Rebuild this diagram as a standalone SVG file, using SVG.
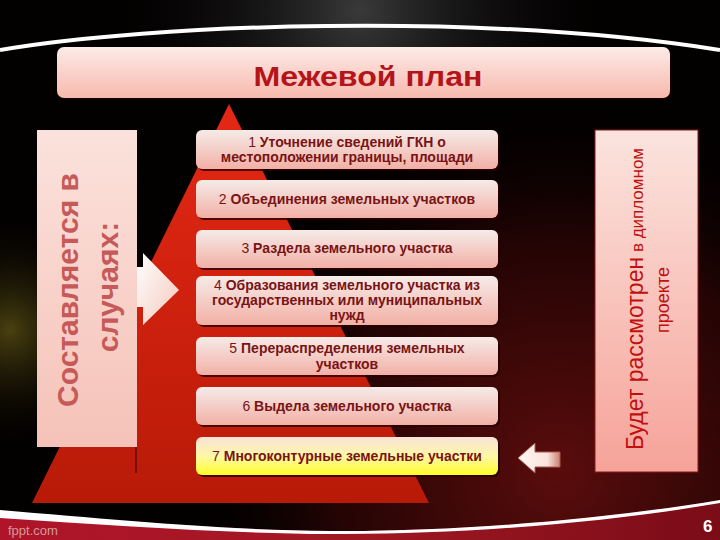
<svg xmlns="http://www.w3.org/2000/svg" width="720" height="540" viewBox="0 0 720 540">
<defs>
  <radialGradient id="glowR" cx="560" cy="470" r="380" gradientUnits="userSpaceOnUse">
    <stop offset="0" stop-color="#5a0c0c"/>
    <stop offset="0.6" stop-color="#240404"/>
    <stop offset="1" stop-color="#000" stop-opacity="0"/>
  </radialGradient>
  <radialGradient id="glowL" cx="10" cy="330" r="120" gradientUnits="userSpaceOnUse">
    <stop offset="0" stop-color="#4a4010"/>
    <stop offset="1" stop-color="#000" stop-opacity="0"/>
  </radialGradient>
  <radialGradient id="glowT" cx="360" cy="10" r="260" gradientUnits="userSpaceOnUse">
    <stop offset="0" stop-color="#3a3a3a"/>
    <stop offset="1" stop-color="#000" stop-opacity="0"/>
  </radialGradient>
  <linearGradient id="bottomRed" x1="0" y1="0" x2="1" y2="0">
    <stop offset="0" stop-color="#b0142a"/>
    <stop offset="0.5" stop-color="#a01822"/>
    <stop offset="1" stop-color="#7a0c18"/>
  </linearGradient>
  <linearGradient id="tri" x1="0" y1="0" x2="0" y2="1">
    <stop offset="0" stop-color="#e42814"/>
    <stop offset="1" stop-color="#b81a08"/>
  </linearGradient>
  <linearGradient id="titleFill" x1="0" y1="0" x2="0" y2="1">
    <stop offset="0" stop-color="#fdebe7"/>
    <stop offset="1" stop-color="#f7b9ad"/>
  </linearGradient>
  <linearGradient id="boxFill" x1="0" y1="0" x2="0" y2="1">
    <stop offset="0" stop-color="#f6ebe8"/>
    <stop offset="1" stop-color="#f2b0a6"/>
  </linearGradient>
  <linearGradient id="box7Fill" x1="0" y1="0" x2="0" y2="1">
    <stop offset="0" stop-color="#f8e2d6"/>
    <stop offset="0.5" stop-color="#fff7a8"/>
    <stop offset="1" stop-color="#ffff28"/>
  </linearGradient>
  <linearGradient id="leftFill" x1="0" y1="0" x2="0" y2="1">
    <stop offset="0" stop-color="#fbe2dc"/>
    <stop offset="1" stop-color="#f5c2b8"/>
  </linearGradient>
  <linearGradient id="rightFill" x1="0" y1="0" x2="0" y2="1">
    <stop offset="0" stop-color="#fbe4de"/>
    <stop offset="1" stop-color="#f6a399"/>
  </linearGradient>
  <linearGradient id="arrowL" x1="0" y1="0" x2="1" y2="1">
    <stop offset="0" stop-color="#ffffff"/>
    <stop offset="1" stop-color="#f4c8bc"/>
  </linearGradient>
  <linearGradient id="arrowR" x1="0" y1="0" x2="1" y2="0">
    <stop offset="0" stop-color="#fff6f2"/>
    <stop offset="0.7" stop-color="#fbe4dc"/>
    <stop offset="1" stop-color="#c88070"/>
  </linearGradient>
  <style>
    .item { font-family: "Liberation Sans", Arial, sans-serif; font-size: 14px; font-weight: bold; fill: #7a1414; text-anchor: middle; }
    .num { font-weight: normal; }
    .box { stroke: none; }
    .shadow { fill: #2a0000; opacity: 0.8; }
  </style>
</defs>

<!-- background -->
<rect x="0" y="0" width="720" height="540" fill="#030000"/>
<rect x="0" y="0" width="720" height="540" fill="url(#glowR)"/>
<rect x="0" y="0" width="720" height="540" fill="url(#glowL)"/>
<rect x="0" y="0" width="720" height="60" fill="url(#glowT)"/>
<path d="M0,512 C120,520 220,530 330,531 C450,532 600,520 720,500 L720,540 L0,540 Z" fill="url(#bottomRed)"/>
<path d="M0,510 C120,520 220,530 330,531 C450,532 600,520 720,500 L720,503 C600,524 450,535 330,534 C220,533 120,526 0,518 Z" fill="#ffffff"/>
<path d="M0,50 C150,24 480,12 720,50" fill="none" stroke="#ffffff" stroke-width="4"/>

<!-- pyramid -->
<polygon points="229,104 32,503 429,503" fill="url(#tri)"/>
<line x1="136" y1="447" x2="136" y2="473" stroke="#3a0000" stroke-width="1"/>

<!-- title -->
<g id="title">
  <rect x="59" y="49" width="613" height="51" rx="7" fill="#1a0000" opacity="0.7"/>
  <rect x="57" y="47" width="613" height="51" rx="7" fill="url(#titleFill)"/>
  <text x="368" y="86" font-family="&quot;Liberation Sans&quot;, Arial, sans-serif" font-size="28" font-weight="bold" fill="#b4141a" text-anchor="middle" textLength="229" lengthAdjust="spacingAndGlyphs">Межевой план</text>
</g>

<!-- left box -->
<g id="left-box">
  <rect x="37" y="130" width="100" height="317" fill="url(#leftFill)"/>
  <g font-family="&quot;Liberation Sans&quot;, Arial, sans-serif" font-size="30" font-weight="bold" fill="#c65a58" text-anchor="middle">
    <text transform="translate(78,290) rotate(-90)">Составляется в</text>
    <text transform="translate(118,287) rotate(-90)">случаях:</text>
  </g>
</g>

<!-- right box -->
<g id="right-box">
  <rect x="595" y="130" width="103" height="342" fill="url(#rightFill)" stroke="#8a1a1a" stroke-width="1"/>
  <g font-family="&quot;Liberation Sans&quot;, Arial, sans-serif" fill="#c01010" text-anchor="middle">
    <text transform="translate(643,299) rotate(-90)"><tspan font-size="23">Будет рассмотрен</tspan><tspan font-size="17"> в дипломном</tspan></text>
    <text transform="translate(669,300) rotate(-90)" font-size="18">проекте</text>
  </g>
</g>

<!-- list items -->
<g id="item1">
  <rect class="shadow" x="198" y="132" width="302" height="39" rx="6"/>
  <rect class="box" x="196" y="130" width="302" height="39" rx="6" fill="url(#boxFill)"/>
  <text class="item" x="347" y="147"><tspan class="num">1 </tspan>Уточнение сведений ГКН о</text>
  <text class="item" x="347" y="162">местоположении границы, площади</text>
</g>
<g id="item2">
  <rect class="shadow" x="198" y="182" width="302" height="38" rx="6"/>
  <rect class="box" x="196" y="180" width="302" height="38" rx="6" fill="url(#boxFill)"/>
  <text class="item" x="347" y="204"><tspan class="num">2 </tspan>Объединения земельных участков</text>
</g>
<g id="item3">
  <rect class="shadow" x="198" y="232" width="302" height="38" rx="6"/>
  <rect class="box" x="196" y="230" width="302" height="38" rx="6" fill="url(#boxFill)"/>
  <text class="item" x="347" y="253"><tspan class="num">3 </tspan>Раздела земельного участка</text>
</g>
<g id="item4">
  <rect class="shadow" x="198" y="278" width="302" height="49" rx="6"/>
  <rect class="box" x="196" y="276" width="302" height="49" rx="6" fill="url(#boxFill)"/>
  <text class="item" x="347" y="290"><tspan class="num">4 </tspan>Образования земельного участка из</text>
  <text class="item" x="347" y="305">государственных или муниципальных</text>
  <text class="item" x="347" y="320">нужд</text>
</g>
<g id="item5">
  <rect class="shadow" x="198" y="339" width="302" height="38" rx="6"/>
  <rect class="box" x="196" y="337" width="302" height="38" rx="6" fill="url(#boxFill)"/>
  <text class="item" x="347" y="353"><tspan class="num">5 </tspan>Перераспределения земельных</text>
  <text class="item" x="347" y="369">участков</text>
</g>
<g id="item6">
  <rect class="shadow" x="198" y="389" width="302" height="38" rx="6"/>
  <rect class="box" x="196" y="387" width="302" height="38" rx="6" fill="url(#boxFill)"/>
  <text class="item" x="347" y="411"><tspan class="num">6 </tspan>Выдела земельного участка</text>
</g>
<g id="item7">
  <rect class="shadow" x="198" y="439" width="302" height="38" rx="6"/>
  <rect class="box" x="196" y="437" width="302" height="38" rx="6" fill="url(#box7Fill)"/>
  <text class="item" x="347" y="461" fill="#5a0a0a"><tspan class="num">7 </tspan>Многоконтурные земельные участки</text>
</g>

<!-- connectors -->
<g id="connectors">
  <polygon points="137,267 143,267 143,253 179,290 143,325 143,307 137,307" fill="url(#arrowL)"/>
  <polygon points="518,458 535,443 535,452 560,452 560,467 535,467 535,473" fill="url(#arrowR)" stroke="#a85a50" stroke-width="1"/>
</g>

<!-- footer -->
<text x="8" y="535" font-family="&quot;Liberation Sans&quot;, Arial, sans-serif" font-size="13" fill="#d49a9a">fppt.com</text>
<text x="703" y="532" font-family="&quot;Liberation Sans&quot;, Arial, sans-serif" font-size="17" font-weight="bold" fill="#ffffff">6</text>
</svg>
